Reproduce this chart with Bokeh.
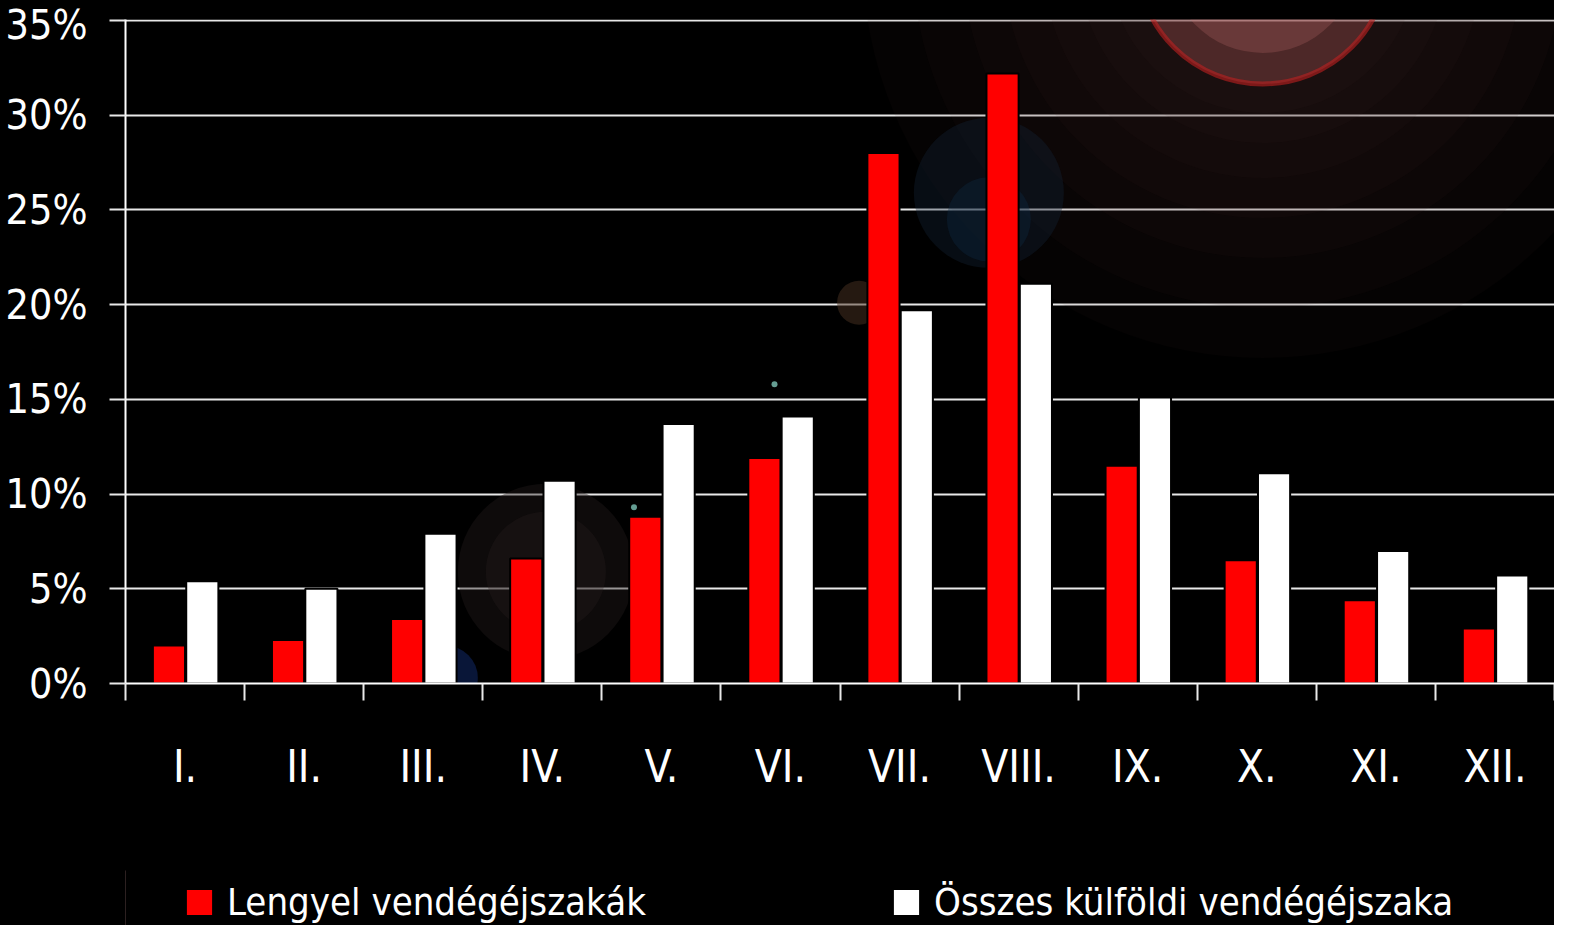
from bokeh.plotting import figure
from bokeh.layouts import column
from bokeh.models import FixedTicker, PrintfTickFormatter, Legend, LegendItem, Range1d, ColumnDataSource
from bokeh.embed import file_html
from bokeh.resources import INLINE

months = ["I.", "II.", "III.", "IV.", "V.", "VI.", "VII.", "VIII.", "IX.", "X.", "XI.", "XII."]
polish = [2.0, 2.3, 3.4, 6.6, 8.8, 11.9, 28.0, 32.2, 11.5, 6.5, 4.4, 2.9]
foreign_total = [5.4, 5.0, 7.9, 10.7, 13.7, 14.1, 19.7, 21.1, 15.1, 11.1, 7.0, 5.7]
y_ticks = [0, 5, 10, 15, 20, 25, 30, 35]
series_names = ["Lengyel vendégéjszakák", "Összes külföldi vendégéjszaka"]

FONT = "DejaVu Sans Condensed"
RED = "#ff0000"

n = len(months)
centers = [i + 0.5 for i in range(n)]
src = ColumnDataSource(dict(
    xr=[c - 0.135 for c in centers],
    xw=[c + 0.145 for c in centers],
    polish=polish,
    total=foreign_total,
))

p = figure(width=1554, height=815, output_backend="svg", toolbar_location=None,
           x_range=Range1d(0, n), y_range=Range1d(0, 35.05),
           min_border_left=125, min_border_right=0, min_border_top=19, min_border_bottom=132)
p.background_fill_color = "black"
p.border_fill_color = "black"
p.outline_line_color = None

# decorative lens-flare background (soft glow, top right)
for r in [400, 350, 300, 260, 220, 185, 155]:
    p.circle(x=[9.55], y=[38.3], radius=r, radius_units="screen", fill_color="#4a2626",
             fill_alpha=0.07, line_color=None)
p.circle(x=[9.55], y=[38.3], radius=126, radius_units="screen", fill_color="#b05a5a",
         fill_alpha=0.35, line_color="#c02020", line_alpha=0.6, line_width=5)
p.circle(x=[9.55], y=[38.3], radius=95, radius_units="screen", fill_color="#c06a6a",
         fill_alpha=0.25, line_color=None)
p.circle(x=[9.55], y=[38.3], radius=60, radius_units="screen", fill_color="#8a80a0",
         fill_alpha=0.6, line_color=None)
deco = [
    (7.25, 25.9, 75, "#14243a", 0.35),
    (7.25, 24.5, 42, "#0e2a45", 0.35),
    (6.16, 20.1, 22, "#4a3222", 0.5),
    (3.53, 5.9, 88, "#221c1c", 0.4),
    (3.53, 5.9, 60, "#2a2020", 0.3),
    (2.69, 0.3, 32, "#0d1f50", 0.7),
]
for x, y, r, c, a in deco:
    p.circle(x=[x], y=[y], radius=r, radius_units="screen", fill_color=c, fill_alpha=a,
             line_color=None)
p.scatter(x=[5.45, 4.27], y=[15.8, 9.3], size=6, fill_color="#8fe0d0", line_color=None, alpha=0.7)

p.vbar(x="xr", top="polish", width=0.27, source=src, fill_color=RED,
       line_color="black", line_width=2)
p.vbar(x="xw", top="total", width=0.27, source=src, fill_color="white",
       line_color="black", line_width=2)

# y axis
p.yaxis.ticker = FixedTicker(ticks=y_ticks)
p.yaxis.formatter = PrintfTickFormatter(format="%d%%")
p.yaxis.axis_line_color = "white"
p.yaxis.axis_line_width = 2
p.yaxis.major_tick_line_color = "#e8e8e8"
p.yaxis.major_tick_line_width = 2
p.yaxis.major_tick_out = 16
p.yaxis.major_tick_in = 0
p.yaxis.minor_tick_line_color = None
p.yaxis.major_label_text_color = "white"
p.yaxis.major_label_text_font = FONT
p.yaxis.major_label_text_font_size = "41px"
p.yaxis.major_label_standoff = 22

# x axis
p.xaxis.ticker = FixedTicker(ticks=centers, minor_ticks=list(range(n + 1)))
p.xaxis.major_label_overrides = {c: m for c, m in zip(centers, months)}
p.xaxis.axis_line_color = "white"
p.xaxis.axis_line_width = 2
p.xaxis.major_tick_line_color = None
p.xaxis.major_tick_out = 0
p.xaxis.major_tick_in = 0
p.xaxis.minor_tick_line_color = "#e8e8e8"
p.xaxis.minor_tick_line_width = 2
p.xaxis.minor_tick_out = 17
p.xaxis.minor_tick_in = 0
p.xaxis.major_label_text_color = "white"
p.xaxis.major_label_text_font = FONT
p.xaxis.major_label_text_font_size = "44px"
p.xaxis.major_label_standoff = 40

p.xgrid.grid_line_color = None
p.ygrid.ticker = FixedTicker(ticks=y_ticks)
p.ygrid.grid_line_color = "#e8e8e8"
p.ygrid.grid_line_width = 2

# legend strip (its frame is aligned with the main frame, starting at x=125)
p2 = figure(width=1554, height=110, output_backend="svg", toolbar_location=None,
            x_range=Range1d(0, 1), y_range=Range1d(0, 1),
            min_border_left=125, min_border_right=0, min_border_top=0, min_border_bottom=0)
p2.axis.visible = False
p2.grid.visible = False
p2.background_fill_color = "black"
p2.border_fill_color = "black"
p2.outline_line_color = None
proxy = ColumnDataSource(dict(x=[-5.0], top=[0.5]))
k1 = p2.vbar(x="x", top="top", width=0.1, source=proxy, fill_color=RED, line_color="black", line_width=2)
k2 = p2.vbar(x="x", top="top", width=0.1, source=proxy, fill_color="white", line_color="black", line_width=2)

for name, rend, dx in [(series_names[0], k1, 57), (series_names[1], k2, 764)]:
    lg = Legend(items=[LegendItem(label=name, renderers=[rend])], location=(dx, 1))
    lg.background_fill_alpha = 0
    lg.border_line_color = None
    lg.padding = 0
    lg.margin = 0
    lg.glyph_width = 34
    lg.glyph_height = 34
    lg.label_standoff = 11
    lg.label_text_color = "white"
    lg.label_text_font = FONT
    lg.label_text_font_size = "38px"
    p2.add_layout(lg, "center")

layout = column(p, p2, spacing=0, styles={"background-color": "black"})
open("out.html", "w").write(file_html(layout, INLINE))
